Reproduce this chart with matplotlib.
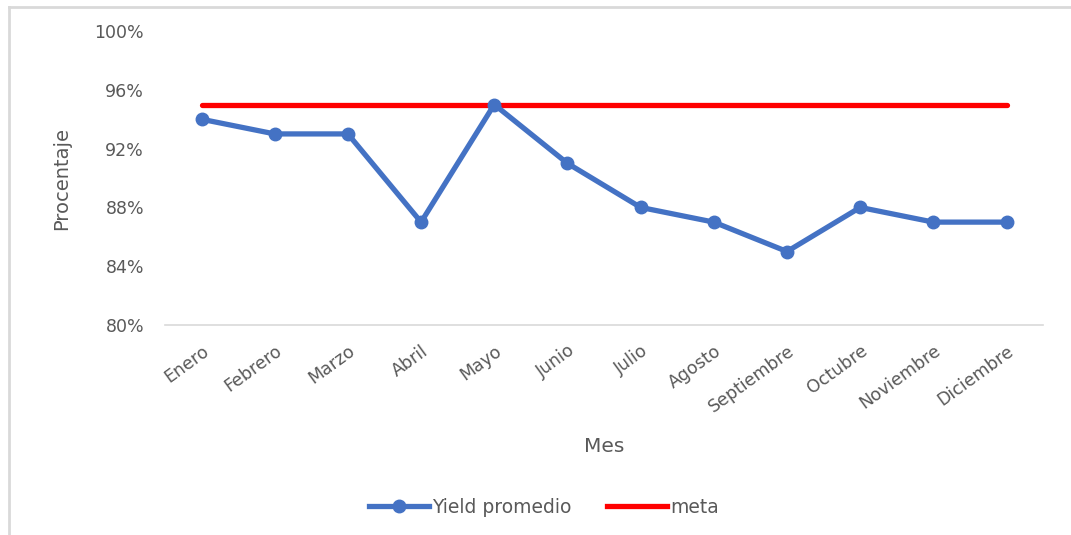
import matplotlib
matplotlib.use('Agg')
import matplotlib.pyplot as plt
from matplotlib.lines import Line2D
from matplotlib.ticker import FuncFormatter

meses = ['Enero', 'Febrero', 'Marzo', 'Abril', 'Mayo', 'Junio', 'Julio',
         'Agosto', 'Septiembre', 'Octubre', 'Noviembre', 'Diciembre']
yield_promedio = [94, 93, 93, 87, 95, 91, 88, 87, 85, 88, 87, 87]
meta = [95] * 12
y_ticks = [80, 84, 88, 92, 96, 100]

plt.rcParams['font.family'] = ['DejaVu Sans']
gris = '#595959'

fig = plt.figure(figsize=(10.71, 5.35), dpi=100)
ax = fig.add_axes([0.154, 0.3925, 0.82, 0.5495])

x = list(range(len(meses)))
ax.plot(x, yield_promedio, color='#4472C4', lw=3.8, marker='o', ms=9,
        solid_capstyle='round', solid_joinstyle='round', zorder=3,
        label='Yield promedio')
ax.plot(x, meta, color='#FF0000', lw=3.8, solid_capstyle='round', zorder=2,
        label='meta')

ax.set_xlim(-0.5, len(meses) - 0.5)
ax.set_ylim(80, 100)
ax.set_yticks(y_ticks)
ax.yaxis.set_major_formatter(FuncFormatter(lambda v, p: f'{v:.0f}%'))
ax.set_xticks(x)
ax.set_xticklabels(meses, rotation=36, ha='right', rotation_mode='anchor',
                   fontsize=12)

for s in ['top', 'right', 'left']:
    ax.spines[s].set_visible(False)
ax.spines['bottom'].set_color('#d9d9d9')
ax.spines['bottom'].set_linewidth(1.2)
ax.tick_params(axis='both', length=0, labelsize=12.5, labelcolor=gris)
ax.tick_params(axis='y', pad=15)
ax.tick_params(axis='x', pad=12)

ax.set_ylabel('Procentaje', fontsize=14, color=gris, labelpad=17)
ax.set_xlabel('Mes', fontsize=14.5, color=gris, labelpad=15)

handles = [Line2D([], [], color='#4472C4', lw=3.8, marker='o', ms=9),
           Line2D([], [], color='#FF0000', lw=3.8)]
leg = fig.legend(handles, ['Yield promedio', 'meta'], loc='center',
                 bbox_to_anchor=(0.508, 0.052), ncol=2, frameon=False,
                 fontsize=13.5, handlelength=3.2, handletextpad=0.15,
                 columnspacing=1.9)
for t in leg.get_texts():
    t.set_color(gris)

# marco gris del área del gráfico
fig.add_artist(Line2D([0.0085, 0.0085], [0, 0.987], color='#d9d9d9', lw=2,
                      transform=fig.transFigure))
fig.add_artist(Line2D([0.0085, 1.0], [0.987, 0.987], color='#d9d9d9', lw=2,
                      transform=fig.transFigure))

fig.savefig('out.png', dpi=100)
